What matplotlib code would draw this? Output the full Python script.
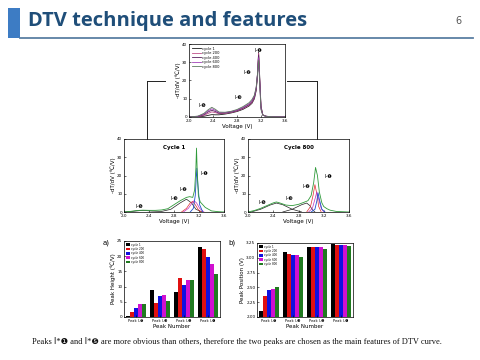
import matplotlib
matplotlib.use("Agg")
import matplotlib.pyplot as plt
from matplotlib.lines import Line2D
from matplotlib.patches import Rectangle
import numpy as np

# ---------------- data ----------------
cycles = ["cycle 1", "cycle 200", "cycle 400", "cycle 600", "cycle 800"]
top_colors = ["#1a1a1a", "#c0508a", "#5a1f5e", "#a040b8", "#5f7a5f"]

top_v = [2.00, 2.15, 2.25, 2.32, 2.38, 2.44, 2.50, 2.60, 2.70, 2.80, 2.90, 3.00, 3.05,
         3.09, 3.12, 3.14, 3.16, 3.18, 3.20, 3.23, 3.28, 3.40, 3.60]
top_c1 = [0, 0.1, 0.4, 0.9, 1.3, 1.2, 1.2, 1.6, 2.2, 3.0, 4.2, 6.0, 7.5,
          10.0, 14.5, 22.0, 35.5, 21.0, 6.0, 1.2, 0.4, 0.1, 0]
top_c200 = [0, 0.2, 0.9, 2.0, 2.8, 2.4, 1.8, 2.0, 2.5, 3.3, 4.6, 6.4, 8.0,
            10.5, 15.0, 22.5, 35.0, 20.0, 5.5, 1.2, 0.4, 0.1, 0]
top_c400 = [0, 0.3, 1.3, 2.8, 3.7, 3.0, 2.1, 2.2, 2.7, 3.5, 4.9, 6.8, 8.5,
            11.0, 15.5, 23.0, 34.0, 19.0, 5.0, 1.1, 0.4, 0.1, 0]
top_c600 = [0, 0.4, 1.7, 3.4, 4.5, 3.6, 2.4, 2.4, 2.9, 3.8, 5.3, 7.3, 9.0,
            11.5, 16.0, 23.0, 32.5, 18.0, 4.5, 1.0, 0.4, 0.1, 0]
top_c800 = [0, 0.5, 2.0, 4.0, 5.3, 4.2, 2.7, 2.6, 3.1, 4.1, 5.7, 7.8, 9.6,
            12.0, 16.5, 23.0, 31.0, 17.0, 4.0, 1.0, 0.4, 0.1, 0]
top_series = [top_c1, top_c200, top_c400, top_c600, top_c800]

# Cycle 1 fit
c1_total_v = [2.0, 2.1, 2.2, 2.3, 2.4, 2.5, 2.6, 2.7, 2.8, 2.9, 3.0, 3.05, 3.1, 3.13,
              3.15, 3.16, 3.17, 3.19, 3.22, 3.3, 3.4, 3.5, 3.6]
c1_total = [0, 0.3, 0.8, 1.0, 0.9, 0.9, 1.1, 1.8, 4.0, 6.2, 8.0, 8.4, 8.0, 12.0,
            24.0, 35.0, 24.0, 9.0, 5.5, 2.5, 0.6, 0.2, 0]
c1_blue_v = [3.06, 3.11, 3.14, 3.155, 3.165, 3.18, 3.21, 3.26]
c1_blue = [0, 2.0, 9.0, 18.0, 24.0, 16.0, 4.0, 0]
c1_mag_v = [2.95, 3.03, 3.09, 3.12, 3.16, 3.21, 3.28]
c1_mag = [0, 2.0, 5.0, 6.2, 5.0, 2.0, 0]
c1_red_v = [2.92, 3.00, 3.06, 3.10, 3.14, 3.19, 3.24]
c1_red = [0, 2.0, 5.0, 5.8, 4.0, 1.2, 0]
c1_blk_v = [2.0, 2.15, 2.3, 2.45, 2.6, 2.75, 2.9, 3.0, 3.08, 3.15, 3.25]
c1_blk = [0, 0.4, 0.9, 0.5, 0.3, 1.5, 5.0, 7.0, 5.0, 1.5, 0]

# Cycle 800 fit
c8_total_v = [2.0, 2.1, 2.2, 2.3, 2.4, 2.45, 2.5, 2.6, 2.7, 2.8, 2.9, 2.95, 3.0, 3.04,
              3.07, 3.1, 3.13, 3.17, 3.2, 3.25, 3.3, 3.4, 3.6]
c8_total = [0, 0.8, 2.0, 3.5, 5.0, 5.5, 5.0, 3.8, 3.5, 4.2, 5.5, 6.2, 9.0, 16.0,
            24.4, 20.0, 11.0, 5.0, 3.0, 1.8, 1.0, 0.3, 0]
c8_blk1_v = [2.05, 2.2, 2.35, 2.45, 2.55, 2.7, 2.85]
c8_blk1 = [0, 1.5, 3.8, 4.9, 4.0, 1.5, 0]
c8_blk2_v = [2.55, 2.7, 2.85, 2.93, 2.98, 3.02, 3.06]
c8_blk2 = [0, 1.5, 4.0, 4.9, 3.5, 1.2, 0]
c8_red_v = [2.93, 2.99, 3.03, 3.06, 3.09, 3.12, 3.16]
c8_red = [0, 3.0, 9.0, 15.0, 10.0, 3.0, 0]
c8_mag_v = [2.96, 3.02, 3.06, 3.09, 3.12, 3.16, 3.2]
c8_mag = [0, 2.0, 7.0, 11.0, 7.0, 2.0, 0]
c8_blue_v = [3.0, 3.06, 3.09, 3.11, 3.13, 3.17, 3.22]
c8_blue = [0, 1.5, 6.0, 10.5, 7.0, 1.5, 0]

# bar charts
peak_names = ["Peak Ⅰ-❺", "Peak Ⅰ-❸", "Peak Ⅰ-❷", "Peak Ⅰ-❶"]
bar_colors = ["#000000", "#e01010", "#1010e0", "#d010d0", "#207a20"]
height_vals = [
    [0.3, 8.8, 8.3, 23.0],   # cycle 1
    [1.8, 4.7, 12.9, 22.4],  # cycle 200
    [3.0, 6.9, 10.6, 19.9],  # cycle 400
    [4.4, 7.1, 12.2, 17.4],  # cycle 600
    [4.4, 5.3, 12.2, 14.2],  # cycle 800
]
pos_vals = [
    [2.10, 3.09, 3.19, 3.23],
    [2.36, 3.06, 3.19, 3.22],
    [2.46, 3.04, 3.18, 3.22],
    [2.48, 3.04, 3.18, 3.21],
    [2.50, 3.02, 3.15, 3.20],
]

# ---------------- figure ----------------
W, H = 480, 360
fig = plt.figure(figsize=(4.8, 3.6), dpi=100)
fig.patch.set_facecolor("white")

def ax_at(x0, y0, x1, y1):
    return fig.add_axes([x0 / W, 1 - y1 / H, (x1 - x0) / W, (y1 - y0) / H])

def fx(x):
    return x / W

def fy(y):
    return 1 - y / H

# header
fig.add_artist(Rectangle((fx(8), fy(38)), fx(12), 30 / H, transform=fig.transFigure,
                         color="#3d7cc4", lw=0))
fig.add_artist(Line2D([fx(20), fx(473)], [fy(37.5), fy(37.5)], transform=fig.transFigure,
                      color="#5b7fa3", lw=1.3))
fig.text(fx(28), fy(21), "DTV technique and features", fontfamily="Open Sans",
         fontweight="bold", fontsize=14.5, color="#1f4e79", va="center", ha="left")
fig.text(fx(458), fy(21), "6", fontsize=7, color="#555555", va="center", ha="center")

tick_fs = 3.0
lab_fs = 4.0
ann_fs = 3.6

def style_ax(ax):
    ax.tick_params(direction="in", length=1.5, width=0.4, labelsize=tick_fs, pad=1.2)
    for s in ax.spines.values():
        s.set_linewidth(0.5)

# top DTV chart
ax0 = ax_at(189, 44, 285, 117)
for vals, col, lab in zip(top_series, top_colors, cycles):
    ax0.plot(top_v, vals, color=col, lw=0.6, label=lab)
ax0.set_xlim(2.0, 3.6)
ax0.set_ylim(0, 40)
ax0.set_xticks([2.0, 2.4, 2.8, 3.2, 3.6])
ax0.set_yticks([0, 10, 20, 30, 40])
style_ax(ax0)
ax0.set_xlabel("Voltage (V)", fontsize=lab_fs, labelpad=1)
ax0.set_ylabel("-dT/dV (℃/V)", fontsize=lab_fs, labelpad=1)
ax0.legend(loc="upper left", fontsize=2.6, frameon=False, handlelength=2.5,
           borderaxespad=0.3, labelspacing=0.15, handletextpad=0.4)
for txt, xv, yv in [("Ⅰ-❶", 3.16, 36.5), ("Ⅰ-❷", 2.98, 24.4), ("Ⅰ-❸", 2.83, 10.9),
                    ("Ⅰ-❺", 2.22, 6.2)]:
    ax0.text(xv, yv, txt, fontsize=ann_fs, ha="center", va="center")

# cycle 1 chart
ax1 = ax_at(124, 139, 224, 212)
ax1.plot(c1_blk_v, c1_blk, color="#222222", lw=0.5)
ax1.plot(c1_red_v, c1_red, color="#e03030", lw=0.5)
ax1.plot(c1_mag_v, c1_mag, color="#c030c0", lw=0.5)
ax1.plot(c1_blue_v, c1_blue, color="#2050d0", lw=0.6)
ax1.plot(c1_total_v, c1_total, color="#2f9a3a", lw=0.6)
ax1.set_xlim(2.0, 3.6)
ax1.set_ylim(0, 40)
ax1.set_xticks([2.0, 2.4, 2.8, 3.2, 3.6])
ax1.set_yticks([0, 10, 20, 30, 40])
style_ax(ax1)
ax1.set_xlabel("Voltage (V)", fontsize=lab_fs, labelpad=1)
ax1.set_ylabel("-dT/dV (℃/V)", fontsize=lab_fs, labelpad=1)
ax1.set_title("Cycle 1", fontsize=4, fontweight="bold", y=0.86, pad=0)
for txt, xv, yv in [("Ⅰ-❶", 3.28, 20.9), ("Ⅰ-❷", 2.95, 12.2), ("Ⅰ-❸", 2.81, 7.3),
                    ("Ⅰ-❺", 2.24, 3.1)]:
    ax1.text(xv, yv, txt, fontsize=ann_fs, ha="center", va="center")

# cycle 800 chart
ax2 = ax_at(248, 139, 349, 212)
ax2.plot(c8_blk1_v, c8_blk1, color="#222222", lw=0.5)
ax2.plot(c8_blk2_v, c8_blk2, color="#222222", lw=0.5)
ax2.plot(c8_red_v, c8_red, color="#e03030", lw=0.5)
ax2.plot(c8_mag_v, c8_mag, color="#c030c0", lw=0.5)
ax2.plot(c8_blue_v, c8_blue, color="#2050d0", lw=0.6)
ax2.plot(c8_total_v, c8_total, color="#2f9a3a", lw=0.6)
ax2.set_xlim(2.0, 3.6)
ax2.set_ylim(0, 40)
ax2.set_xticks([2.0, 2.4, 2.8, 3.2, 3.6])
ax2.set_yticks([0, 10, 20, 30, 40])
style_ax(ax2)
ax2.set_xlabel("Voltage (V)", fontsize=lab_fs, labelpad=1)
ax2.set_ylabel("-dT/dV (℃/V)", fontsize=lab_fs, labelpad=1)
ax2.set_title("Cycle 800", fontsize=4, fontweight="bold", y=0.86, pad=0)
for txt, xv, yv in [("Ⅰ-❶", 3.28, 19.5), ("Ⅰ-❷", 2.92, 14.0), ("Ⅰ-❸", 2.65, 7.6),
                    ("Ⅰ-❺", 2.23, 5.3)]:
    ax2.text(xv, yv, txt, fontsize=ann_fs, ha="center", va="center")

# connectors
conn = dict(transform=fig.transFigure, color="#222222", lw=0.7)
fig.add_artist(Line2D([fx(147), fx(165)], [fy(81), fy(81)], **conn))
fig.add_artist(Line2D([fx(147), fx(147)], [fy(81), fy(139)], **conn))
fig.add_artist(Line2D([fx(287), fx(317)], [fy(81), fy(81)], **conn))
fig.add_artist(Line2D([fx(317), fx(317)], [fy(81), fy(139)], **conn))

# bar charts
def bar_chart(ax, data, ylim, yticks, ylabel, fmt):
    n = len(data)
    x = np.arange(len(peak_names))
    w = 0.17
    for i, (vals, col, lab) in enumerate(zip(data, bar_colors, cycles)):
        ax.bar(x + (i - (n - 1) / 2) * w, vals, w, color=col, label=lab,
               edgecolor="none")
    ax.set_xlim(-0.5, len(peak_names) - 0.5)
    ax.set_ylim(*ylim)
    ax.set_yticks(yticks)
    ax.set_yticklabels([fmt.format(t) for t in yticks])
    ax.set_xticks(x)
    ax.set_xticklabels(peak_names)
    style_ax(ax)
    ax.tick_params(axis="x", labelsize=2.6, length=1.2)
    ax.set_xlabel("Peak Number", fontsize=lab_fs, labelpad=1)
    ax.set_ylabel(ylabel, fontsize=lab_fs, labelpad=1)
    ax.legend(loc="upper left", fontsize=2.0, frameon=False, handlelength=1.6,
              handleheight=1.0, borderaxespad=0.2, labelspacing=0.1, handletextpad=0.3)

axa = ax_at(124, 241, 220, 317)
bar_chart(axa, height_vals, (0, 25), [0, 5, 10, 15, 20, 25], "Peak Height (℃/V)", "{:g}")
axb = ax_at(257, 243, 353, 317)
bar_chart(axb, pos_vals, (2.0, 3.25), [2.0, 2.25, 2.5, 2.75, 3.0, 3.25],
          "Peak Position (V)", "{:.2f}")
fig.text(fx(106), fy(243), "a)", fontsize=5, ha="center", va="center")
fig.text(fx(232), fy(243), "b)", fontsize=5, ha="center", va="center")

# caption
fig.text(fx(32), fy(341),
         "Peaks Ⅰ*❶ and Ⅰ*❺ are more obvious than others, therefore the two peaks are chosen as the main features of DTV curve.",
         fontfamily=["Liberation Serif", "DejaVu Sans"], fontsize=6.0, ha="left", va="center",
         color="#111111")

fig.savefig("out.png", dpi=100, facecolor="white")
